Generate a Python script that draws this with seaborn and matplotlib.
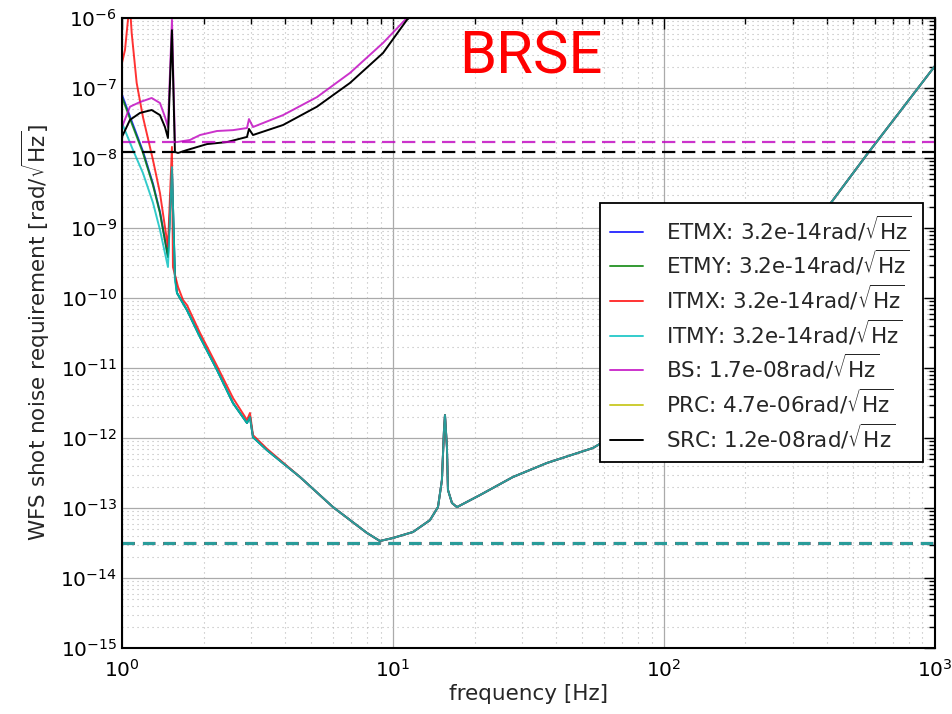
import numpy as np
import pandas as pd
import matplotlib
matplotlib.use("Agg")
import matplotlib.pyplot as plt
import seaborn as sns
from matplotlib.lines import Line2D
from matplotlib.ticker import LogLocator, LogFormatterSciNotation, NullFormatter

# ---------------- data ----------------
unit = r"$\mathrm{rad}/\sqrt{\mathrm{Hz}}$"
names = ["ETMX", "ETMY", "ITMX", "ITMY", "BS", "PRC", "SRC"]
requirements = [3.2e-14, 3.2e-14, 3.2e-14, 3.2e-14, 1.7e-08, 4.7e-06, 1.2e-08]
req_text = ["3.2e-14", "3.2e-14", "3.2e-14", "3.2e-14", "1.7e-08", "4.7e-06", "1.2e-08"]

# common high-frequency part of the four test-mass curves
tail_f = [1.596, 1.738, 1.941, 2.242, 2.568, 2.893, 2.967, 3.044, 3.43, 4.54, 6.01,
          8.02, 8.95, 10.0, 11.85, 13.69, 14.66, 15.16, 15.43, 15.56, 15.82, 15.96,
          16.51, 17.23, 20.94, 27.7, 37.0, 54.7, 74.9, 100.9, 135.8, 207.7, 420.5,
          561.0, 743.0, 1000.0]
tail_v = [1.18e-10, 6.7e-11, 2.77e-11, 9.4e-12, 3.16e-12, 1.64e-12, 2.0e-12, 1.03e-12,
          6.7e-13, 2.77e-13, 1.03e-13, 4.4e-14, 3.38e-14, 3.73e-14, 4.54e-14, 6.7e-14,
          1.03e-13, 2.5e-13, 1.3e-12, 2.13e-12, 7.4e-13, 1.81e-13, 1.18e-13, 1.03e-13,
          1.53e-13, 2.77e-13, 4.4e-13, 7.2e-13, 1.48e-12, 3.27e-12, 1.03e-11, 7.2e-11,
          2.5e-09, 1.12e-08, 4.6e-08, 2.06e-07]

head_f = [1.0, 1.098, 1.195, 1.301, 1.381, 1.478, 1.529, 1.568]
etmx_head = [8.0e-08, 3.0e-08, 1.25e-08, 4.3e-09, 1.7e-09, 3.9e-10, 6.7e-09, 2.13e-10]
etmy_head = [7.4e-08, 2.8e-08, 1.18e-08, 4.1e-09, 1.64e-09, 3.85e-10, 6.7e-09, 2.13e-10]
itmy_head = [3.16e-08, 1.3e-08, 6.1e-09, 2.3e-09, 9.4e-10, 2.77e-10, 7.4e-09, 1.81e-10]

itmx_f = [1.0, 1.026, 1.052, 1.070, 1.086, 1.133, 1.195, 1.301, 1.381, 1.441, 1.478,
          1.529, 1.542, 1.610, 1.679, 1.738, 1.941, 2.242, 2.568, 2.893, 2.967, 3.044, 3.43]
itmx_v = [2.28e-07, 3.5e-07, 9.4e-07, 1.5e-06, 6.1e-07, 1.18e-07, 3.85e-08, 9.4e-09,
          3.16e-09, 1.03e-09, 5.4e-10, 1.44e-08, 2.77e-10, 1.44e-10, 9.4e-11, 7.9e-11,
          3.16e-11, 1.07e-11, 3.73e-12, 1.81e-12, 2.28e-12, 1.1e-12, 7.0e-13]

bs_f = [1.0, 1.070, 1.165, 1.287, 1.381, 1.441, 1.478, 1.529, 1.568, 1.596, 1.782,
        1.941, 2.242, 2.568, 2.893, 2.942, 3.044, 3.93, 5.24, 6.94, 9.19, 11.26, 14.0]
bs_v = [2.77e-08, 5.4e-08, 6.3e-08, 7.2e-08, 6.1e-08, 3.85e-08, 2.77e-08, 9.4e-07,
        1.69e-08, 1.69e-08, 1.81e-08, 2.13e-08, 2.43e-08, 2.5e-08, 2.68e-08, 3.6e-08,
        2.77e-08, 4.1e-08, 7.4e-08, 1.64e-07, 4.4e-07, 1.0e-06, 2.2e-06]

src_f = [1.0, 1.070, 1.165, 1.287, 1.381, 1.441, 1.478, 1.529, 1.568, 1.610, 1.738,
         2.059, 2.441, 2.893, 2.942, 3.044, 3.93, 5.24, 6.94, 9.19, 11.26, 14.0]
src_v = [2.0e-08, 3.5e-08, 4.4e-08, 4.85e-08, 4.1e-08, 2.77e-08, 1.93e-08, 6.7e-07,
         1.22e-08, 1.18e-08, 1.3e-08, 1.58e-08, 1.69e-08, 2.0e-08, 2.6e-08, 2.13e-08,
         2.96e-08, 5.4e-08, 1.18e-07, 3.16e-07, 9.4e-07, 2.0e-06]

freq_span = [1.0, 1000.0]

# ---------------- figure ----------------
sns.set_style("white")
plt.rcParams["font.family"] = ["DejaVu Sans"]
plt.rcParams["mathtext.fontset"] = "dejavusans"
plt.rcParams["xtick.direction"] = "in"
plt.rcParams["ytick.direction"] = "in"

colors = {"ETMX": "#0000ff", "ETMY": "#008000", "ITMX": "#ff0000", "ITMY": "#00bfbf",
          "BS": "#bf00bf", "PRC": "#bfbf00", "SRC": "#000000"}
alphas = {"ETMX": 0.8, "ETMY": 0.8, "ITMX": 0.8, "ITMY": 0.8, "BS": 0.8, "PRC": 0.8,
          "SRC": 1.0}

fig = plt.figure(figsize=(9.53, 7.14), dpi=100)
ax = fig.add_axes([0.128, 0.0924, 0.853, 0.8824])
ax.set_xscale("log")
ax.set_yscale("log")

series = {
    "ETMX": (head_f + tail_f, etmx_head + tail_v),
    "ETMY": (head_f + tail_f, etmy_head + tail_v),
    "ITMX": (itmx_f + tail_f[9:], itmx_v + tail_v[9:]),
    "ITMY": (head_f + tail_f, itmy_head + tail_v),
    "BS": (bs_f, bs_v),
    "SRC": (src_f, src_v),
}

for name in names:
    if name in series:
        f, v = series[name]
        df = pd.DataFrame({"f": f, "v": v})
        sns.lineplot(data=df, x="f", y="v", ax=ax, color=colors[name], lw=1.4,
                     alpha=alphas[name], sort=False, estimator=None)

# requirement lines
for name, req in zip(names, requirements):
    df = pd.DataFrame({"f": freq_span, "v": [req, req]})
    if req < 1e-12:
        sns.lineplot(data=df, x="f", y="v", ax=ax, color=colors[name], lw=2.2,
                     alpha=alphas[name], linestyle=(0, (4, 2.7)), estimator=None)
    else:
        sns.lineplot(data=df, x="f", y="v", ax=ax, color=colors[name], lw=1.6,
                     alpha=alphas[name], linestyle=(0, (6, 3)), estimator=None)

ax.set_xlim(1, 1000)
ax.set_ylim(1e-15, 1e-6)

ax.xaxis.set_major_locator(LogLocator(base=10, numticks=20))
ax.yaxis.set_major_locator(LogLocator(base=10, numticks=20))
ax.xaxis.set_minor_locator(LogLocator(base=10, subs=np.arange(2, 10), numticks=100))
ax.yaxis.set_minor_locator(LogLocator(base=10, subs=np.arange(2, 10), numticks=100))
ax.xaxis.set_major_formatter(LogFormatterSciNotation())
ax.yaxis.set_major_formatter(LogFormatterSciNotation())
ax.xaxis.set_minor_formatter(NullFormatter())
ax.yaxis.set_minor_formatter(NullFormatter())

ax.tick_params(which="both", direction="in", top=True, right=True, colors="black",
               labelsize=14.5)
ax.tick_params(which="major", length=8, width=1)
ax.tick_params(which="minor", length=4, width=1)
ax.tick_params(axis="x", pad=8)

ax.grid(True, which="major", color="#aaaaaa", ls="-", lw=0.9)
ax.grid(True, which="minor", color="#b8b8b8", ls=(0, (1, 3.5)), lw=0.8)
for s in ax.spines.values():
    s.set_color("black")
    s.set_linewidth(1.5)

ax.set_xlabel("frequency [Hz]", fontsize=15.5, labelpad=2)
ax.set_ylabel("WFS shot noise requirement [" + unit + "]", fontsize=15.5, labelpad=6)

handles = [Line2D([0], [0], color=colors[n], lw=1.4, alpha=alphas[n]) for n in names]
labels = [f"{n}: {t}" + unit for n, t in zip(names, req_text)]
leg = ax.legend(handles, labels, loc="upper right", bbox_to_anchor=(0.985, 0.706),
                borderaxespad=0, fontsize=15.5, handlelength=1.5, handletextpad=1.1,
                borderpad=0.5, frameon=True, fancybox=False, framealpha=1,
                edgecolor="black", labelspacing=0.25)
leg.get_frame().set_linewidth(1.3)

ax.text(0.503, 0.984, "BRSE", transform=ax.transAxes, color="red", fontsize=43,
        family=["Roboto", "DejaVu Sans"], ha="center", va="top")

fig.savefig("out.png", dpi=100)
